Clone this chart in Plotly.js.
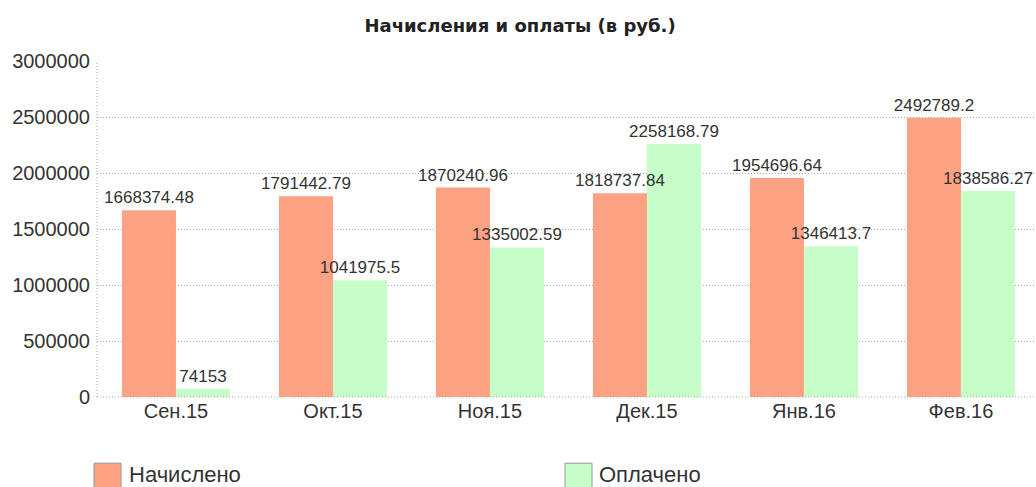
<!DOCTYPE html>
<html>
<head>
<meta charset="utf-8">
<script src="https://cdn.plot.ly/plotly-3.0.1.min.js"></script>
<style>html,body{margin:0;padding:0;background:#fff;}#chart{width:1036px;height:487px;}</style>
</head>
<body>
<div id="chart"></div>
<script>
const categories = ['Сен.15', 'Окт.15', 'Ноя.15', 'Дек.15', 'Янв.16', 'Фев.16'];
const accrued = [1668374.48, 1791442.79, 1870240.96, 1818737.84, 1954696.64, 2492789.2];
const paid = [74153, 1041975.5, 1335002.59, 2258168.79, 1346413.7, 1838586.27];
const seriesNames = ['Начислено', 'Оплачено'];
const seriesColors = ['#FCA283', '#C6FDC8'];
const titleText = 'Начисления и оплаты (в руб.)';
const yTicks = [0, 500000, 1000000, 1500000, 2000000, 2500000, 3000000];

const fontFam = '"Liberation Sans", Arial, sans-serif';
const txtColor = '#333333';
const gridDash = '1px,2px';

function barTrace(vals, i) {
  return {
    type: 'bar', x: categories, y: vals, name: seriesNames[i], offsetgroup: 'g' + i,
    marker: {color: seriesColors[i], line: {width: 0}}, hoverinfo: 'x+y'
  };
}
function labelTrace(vals, i) {
  return {
    type: 'bar', x: categories, y: vals, name: seriesNames[i] + ' label', offsetgroup: 'g' + i,
    marker: {color: 'rgba(0,0,0,0)', line: {width: 0}},
    text: vals.map(v => String(v)), textposition: 'outside',
    textfont: {family: fontFam, size: 17, color: txtColor},
    constraintext: 'none', cliponaxis: false, hoverinfo: 'skip', showlegend: false
  };
}

const data = [barTrace(accrued, 0), barTrace(paid, 1), labelTrace(accrued, 0), labelTrace(paid, 1)];

const shapes = [
  {type: 'line', xref: 'paper', yref: 'paper', x0: 0, x1: 0, y0: 0, y1: 1,
   line: {color: '#a8a8a8', width: 1, dash: gridDash}},
  {type: 'line', xref: 'paper', yref: 'paper', x0: 0, x1: 1, y0: 0, y1: 0,
   line: {color: '#a8a8a8', width: 1, dash: gridDash}},
  {type: 'rect', xref: 'paper', yref: 'paper', x0: -0.0032, x1: 0.0256, y0: -0.28, y1: -0.197,
   fillcolor: seriesColors[0], line: {color: '#999999', width: 1}},
  {type: 'rect', xref: 'paper', yref: 'paper', x0: 0.4984, x1: 0.5272, y0: -0.28, y1: -0.197,
   fillcolor: seriesColors[1], line: {color: '#999999', width: 1}}
];

const annotations = [
  {xref: 'paper', yref: 'paper', x: 0.032, y: -0.232, xanchor: 'left', yanchor: 'middle',
   text: seriesNames[0], showarrow: false, font: {family: fontFam, size: 22, color: txtColor}},
  {xref: 'paper', yref: 'paper', x: 0.5325, y: -0.232, xanchor: 'left', yanchor: 'middle',
   text: seriesNames[1], showarrow: false, font: {family: fontFam, size: 22, color: txtColor}}
];

const layout = {
  width: 1036, height: 487,
  margin: {l: 97, r: 0, t: 61, b: 90, pad: 0},
  paper_bgcolor: '#ffffff', plot_bgcolor: '#ffffff',
  title: {text: '<b>' + titleText + '</b>', x: 0.502, xanchor: 'center', y: 0.948, yanchor: 'middle',
          font: {family: '"DejaVu Sans", sans-serif', size: 18, color: '#222222'}},
  barmode: 'group', bargap: 0.312, bargroupgap: 0,
  showlegend: false,
  xaxis: {type: 'category', range: [-0.503, 5.478], showgrid: false, zeroline: false,
          showline: false, ticks: '', tickfont: {family: fontFam, size: 20, color: txtColor}, fixedrange: true},
  yaxis: {range: [0, 3000000], tickvals: yTicks, ticktext: yTicks.map(String),
          showgrid: true, gridcolor: '#a8a8a8', griddash: gridDash, gridwidth: 1,
          zeroline: false, showline: false, ticks: '', ticklabelstandoff: 6,
          tickfont: {family: fontFam, size: 20, color: txtColor}, fixedrange: true},
  shapes: shapes, annotations: annotations
};

Plotly.newPlot('chart', data, layout, {displayModeBar: false, staticPlot: true});
</script>
</body>
</html>
